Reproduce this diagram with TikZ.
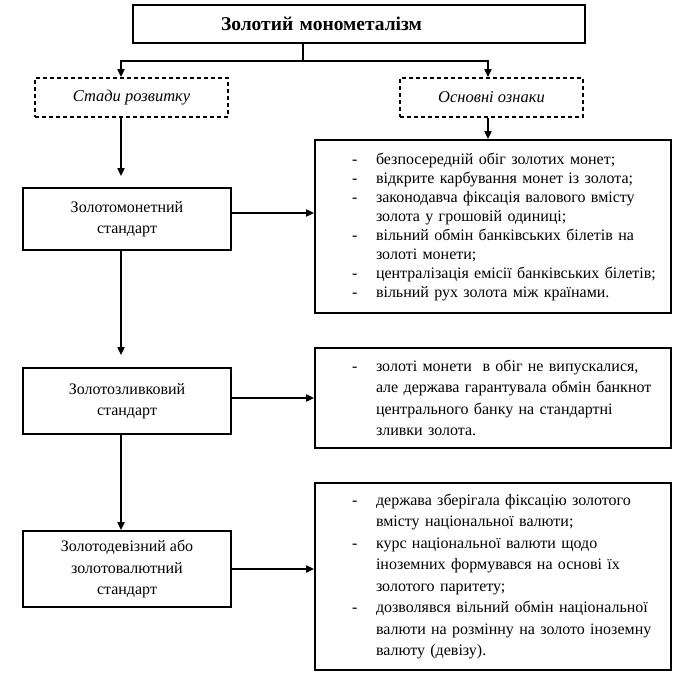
\documentclass[tikz,border=0pt]{standalone}
\usepackage{fontspec}
\setmainfont{Liberation Serif}
\usetikzlibrary{arrows.meta,calc}
\newcommand\li[1]{\hspace*{35pt}\makebox[24pt][l]{-}#1}
\newcommand\ct[1]{\hspace*{59pt}#1}
\begin{document}
\begin{tikzpicture}[x=1pt,y=-1pt,
  box/.style={draw,line width=1.7pt,rectangle,inner sep=2pt,align=center},
  dbox/.style={draw,line width=1.7pt,dash pattern=on 4pt off 3pt,rectangle,inner sep=2pt,
     font=\fontsize{16.5}{18}\selectfont\itshape},
  lbox/.style={box,minimum width=208pt,font=\fontsize{16}{21.5}\selectfont},
  listbox/.style={draw,line width=1.7pt,rectangle,inner xsep=2pt,inner ysep=0pt,
     minimum width=356pt,text width=352pt,align=left},
  arr/.style={line width=1.7pt,-{Triangle[length=8pt,width=7pt]}},
  ln/.style={line width=1.7pt}]
\useasboundingbox (0,0) rectangle (691,675);
\node[box,minimum width=452pt,minimum height=38pt,text width=448pt,align=left,
  font=\fontsize{19.5}{22}\selectfont\bfseries]
  (title) at (359,24) {\hspace*{86pt}Золотий монометалізм};
\node[dbox,minimum width=193pt,minimum height=39pt] (d1) at (131.5,97.5) {Стади розвитку};
\node[dbox,minimum width=183pt,minimum height=39pt] (d2) at (491.5,97.5) {Основні ознаки};
\node[lbox,minimum height=62pt] (A) at (127,219) {Золотомонетний\\стандарт};
\node[lbox,minimum height=66pt] (B) at (127,401) {Золотозливковий\\стандарт};
\node[lbox,minimum height=76pt] (C) at (127,569) {Золотодевізний або\\золотовалютний\\стандарт};
\node[listbox,minimum height=173pt,font=\fontsize{16}{19}\selectfont] (r1) at (493,226.5) {%
\li{безпосередній обіг золотих монет;}\\
\li{відкрите карбування монет із золота;}\\
\li{законодавча фіксація валового вмісту}\\
\ct{золота у грошовій одиниці;}\\
\li{вільний обмін банківських білетів на}\\
\ct{золоті монети;}\\
\li{централізація емісії банківських білетів;}\\
\li{вільний рух золота між країнами.}};
\node[listbox,minimum height=100pt,font=\fontsize{16}{21.5}\selectfont] (r2) at (493,398) {%
\li{золоті монети\ \ в обіг не випускалися,}\\
\ct{але держава гарантувала обмін банкнот}\\
\ct{центрального банку на стандартні}\\
\ct{зливки золота.}\\[8pt]};
\node[listbox,minimum height=187pt,font=\fontsize{16}{21.5}\selectfont] (r3) at (493,576.5) {%
\li{держава зберігала фіксацію золотого}\\
\ct{вмісту національної валюти;}\\
\li{курс національної валюти щодо}\\
\ct{іноземних формувався на основі їх}\\
\ct{золотого паритету;}\\
\li{дозволявся вільний обмін національної}\\
\ct{валюти на розмінну на золото іноземну}\\
\ct{валюту (девізу).}\\[10pt]};
\coordinate (tj) at (303,61);
\coordinate (col) at (121,0);
\draw[ln] (title.south -| tj) -- (tj);
\draw[arr] (tj) -| (d1.north -| col);
\draw[arr] (tj) -| (d2.north -| 488,0);
\draw[arr,shorten >=11pt] (d1.south -| col) -- (A.north -| col);
\draw[arr] (d2.south -| 488,0) -- (r1.north -| 488,0);
\draw[arr,shorten >=12pt] (A.south -| col) -- (B.north -| col);
\draw[arr] (B.south -| col) -- (C.north -| col);
\draw[arr] ([yshift=6pt]A.east) -- ([yshift=6pt]A.east -| r1.west);
\draw[arr] ([yshift=3pt]B.east) -- ([yshift=3pt]B.east -| r2.west);
\draw[arr] (C.east) -- (C.east -| r3.west);
\end{tikzpicture}
\end{document}
